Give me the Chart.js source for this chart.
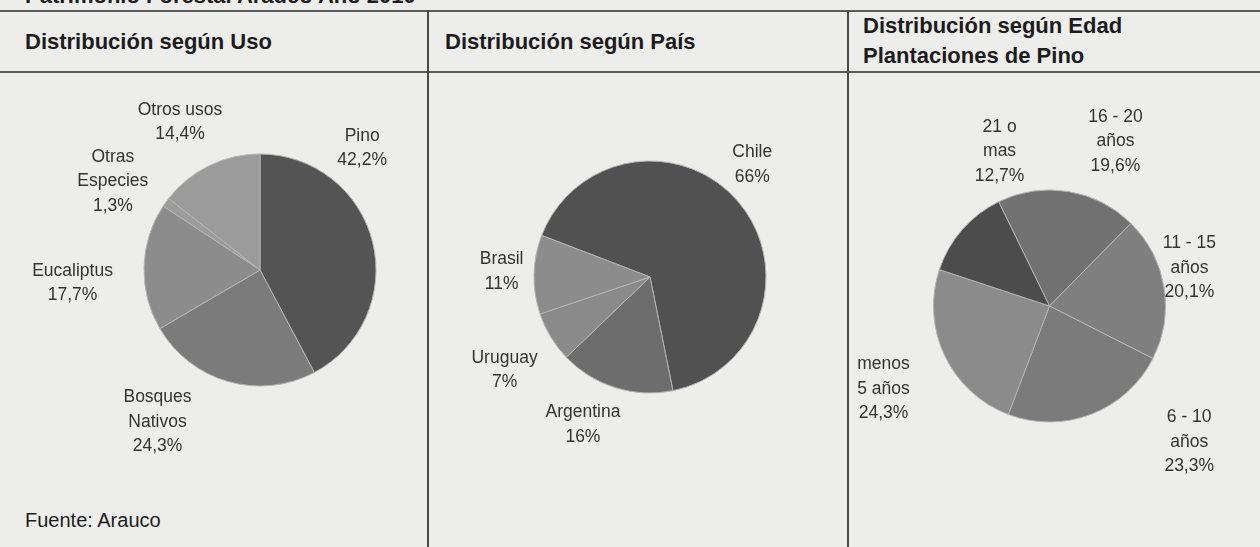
<!DOCTYPE html>
<html>
<head>
<meta charset="utf-8">
<script src="https://cdn.jsdelivr.net/npm/chart.js@4.4.1/dist/chart.umd.min.js"></script>
<style>
  html, body { margin:0; padding:0; }
  body { width:1260px; height:547px; position:relative; overflow:hidden; background:#ededeb; font-family:"Liberation Sans", Arial, sans-serif; }
  .hl { position:absolute; left:0; width:1260px; height:2px; background:#5a5a5a; }
  .vl { position:absolute; top:10px; width:2px; height:540px; background:#4a4a4a; }
  .hd { position:absolute; font-weight:bold; font-size:22px; line-height:22px; color:#1c1c1c; white-space:nowrap; }
  .src { position:absolute; font-size:20px; line-height:20px; color:#1c1c1c; white-space:nowrap; }
  canvas { position:absolute; }
</style>
</head>
<body>
<div class="hd" style="left:25px; top:-15px;">Patrimonio Forestal Arauco Año 2010</div>
<div class="hl" style="top:10px;"></div>
<div class="hl" style="top:71px;"></div>
<div class="vl" style="left:427px;"></div>
<div class="vl" style="left:847px;"></div>
<div class="hd" style="left:25px; top:31px;">Distribución según Uso</div>
<div class="hd" style="left:445px; top:31px;">Distribución según País</div>
<div class="hd" style="left:863px; top:15px;">Distribución según Edad</div>
<div class="hd" style="left:863px; top:45px;">Plantaciones de Pino</div>
<div class="src" style="left:25px; top:510px;">Fuente: Arauco</div>

<canvas id="c1" style="left:0px; top:73px;" width="427" height="474"></canvas>
<canvas id="c2" style="left:429px; top:73px;" width="418" height="474"></canvas>
<canvas id="c3" style="left:849px; top:73px;" width="411" height="474"></canvas>

<script>
// ---- Data ----
const usoLabels = ['Pino', 'Bosques\nNativos', 'Eucaliptus', 'Otras\nEspecies', 'Otros usos'];
const usoValues = [42.2, 24.3, 17.7, 1.3, 14.4];

const paisLabels = ['Chile', 'Argentina', 'Uruguay', 'Brasil'];
const paisValues = [66, 16, 7, 11];

const edadLabels = ['16 - 20\naños', '11 - 15\naños', '6 - 10\naños', 'menos\n5 años', '21 o\nmas'];
const edadValues = [19.6, 20.1, 23.3, 24.3, 12.7];

// ---- Styles / layout ----
const usoColors  = ['#545454', '#7b7b7b', '#8c8c8c', '#9c9c9c', '#9b9b9b'];
const paisColors = ['#515151', '#6d6d6d', '#8a8a8a', '#8c8c8c'];
const edadColors = ['#717171', '#7f7f7f', '#7b7b7b', '#8b8b8b', '#4c4c4c'];

// label anchors: [angle clockwise from top (deg), distance in radii]
const usoLabelPos  = [[40, 1.37], [214, 1.58], [266, 1.62], [301, 1.48], [331.6, 1.45]];
const paisLabelPos = [[42.3, 1.31], [204.4, 1.40], [237.3, 1.49], [272, 1.28]];
const edadLabelPos = [[21.8, 1.53], [74.8, 1.25], [134.2, 1.68], [243.4, 1.60], [342.1, 1.40]];

const labelPlugin = {
  id: 'outLabels',
  afterDatasetsDraw(chart, args, opts) {
    const ctx = chart.ctx;
    const meta = chart.getDatasetMeta(0);
    const ds = chart.data.datasets[0];
    ctx.save();
    ctx.font = opts.font;
    ctx.fillStyle = opts.color;
    ctx.textAlign = 'center';
    ctx.textBaseline = 'middle';
    meta.data.forEach((arc, i) => {
      const p = arc.getProps(['x', 'y', 'outerRadius'], true);
      const [angDeg, dist] = opts.positions[i];
      const a = angDeg * Math.PI / 180;
      const cx = p.x + Math.sin(a) * dist * p.outerRadius;
      const cy = p.y - Math.cos(a) * dist * p.outerRadius;
      const lines = chart.data.labels[i].split('\n');
      lines.push(opts.format(ds.data[i]));
      const lh = opts.lineHeight;
      const top = cy - (lines.length - 1) * lh / 2;
      lines.forEach((t, k) => ctx.fillText(t, cx, top + k * lh));
    });
    ctx.restore();
  }
};

function makePie(id, labels, values, colors, rotation, padding, positions, format) {
  return new Chart(document.getElementById(id), {
    type: 'pie',
    data: {
      labels: labels,
      datasets: [{
        data: values,
        backgroundColor: colors,
        borderColor: '#b4b4b4',
        borderWidth: 1
      }]
    },
    options: {
      responsive: false,
      animation: false,
      rotation: rotation,
      radius: 116,
      layout: { padding: padding },
      plugins: {
        legend: { display: false },
        tooltip: { enabled: false },
        title: { display: false },
        outLabels: {
          positions: positions,
          format: format,
          font: '17.5px "Liberation Sans", Arial, sans-serif',
          color: '#333333',
          lineHeight: 24.5
        }
      }
    },
    plugins: [labelPlugin]
  });
}

const fmtComma = v => v.toFixed(1).replace('.', ',') + '%';
const fmtInt = v => v + '%';

makePie('c1', usoLabels, usoValues, usoColors, 0,
  { left: 93, right: 0, top: 0, bottom: 80 }, usoLabelPos, fmtComma);
makePie('c2', paisLabels, paisValues, paisColors, -69,
  { left: 24, right: 0, top: 0, bottom: 66 }, paisLabelPos, fmtInt);
makePie('c3', edadLabels, edadValues, edadColors, -26,
  { left: 0, right: 10, top: 0, bottom: 8 }, edadLabelPos, fmtComma);
</script>
</body>
</html>
